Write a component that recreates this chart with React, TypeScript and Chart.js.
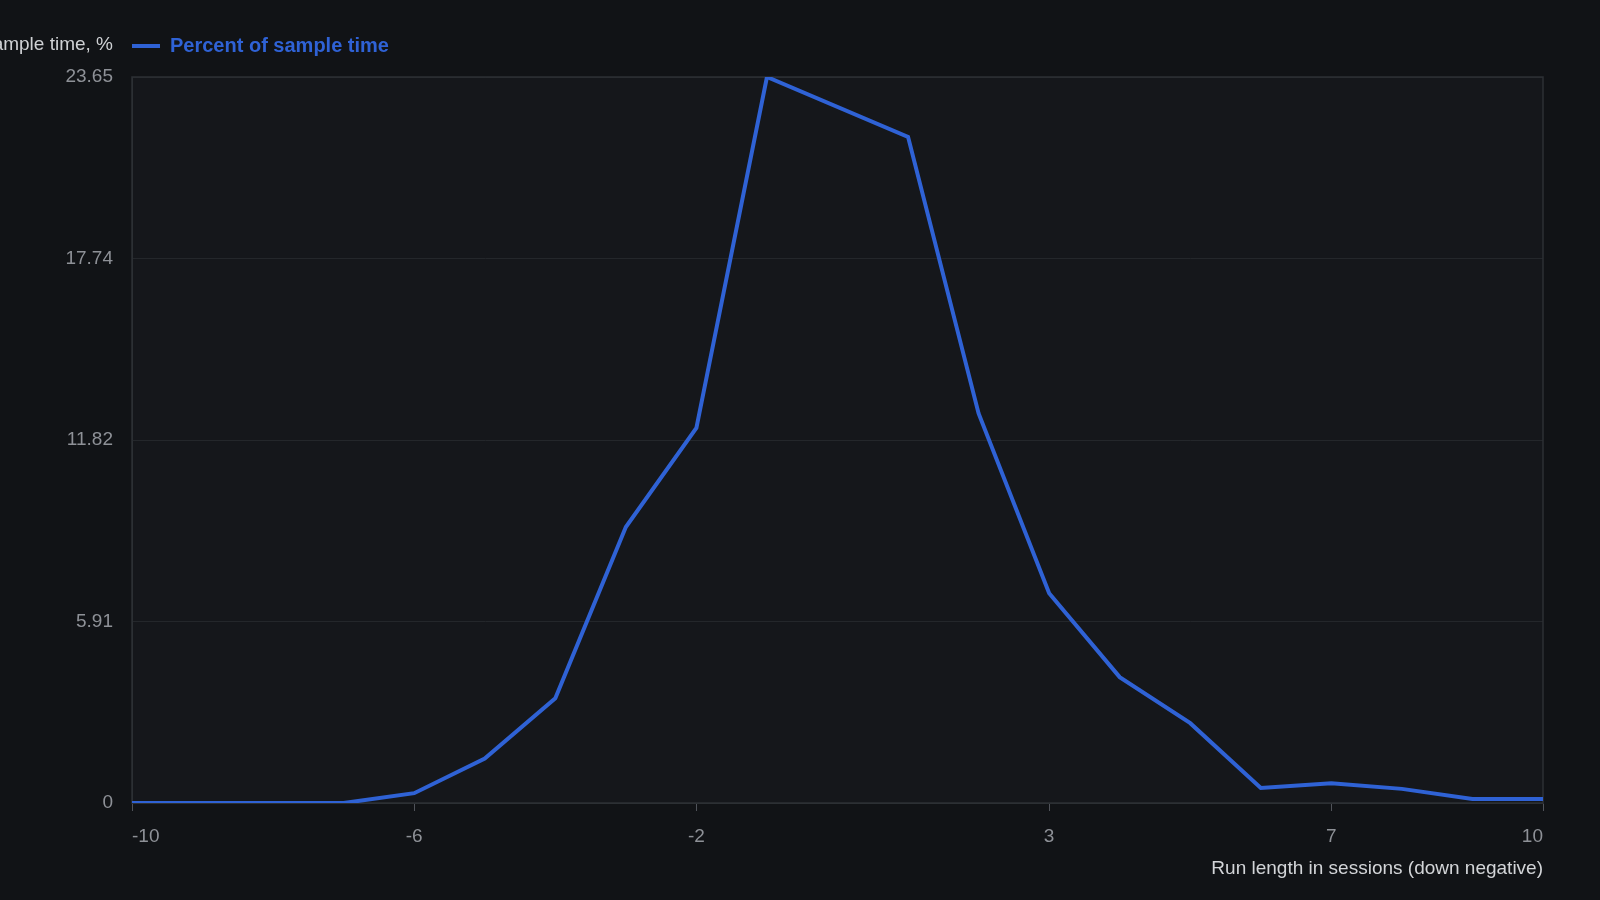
import { useEffect, useRef } from 'react';
import Chart from 'chart.js/auto';

const runLengths = [-10, -9, -8, -7, -6, -5, -4, -3, -2, -1, 1, 2, 3, 4, 5, 6, 7, 8, 9, 10];
const percentTime = [0, 0, 0, 0, 0.32, 1.45, 3.41, 8.99, 12.22, 23.65, 21.7, 12.69, 6.83, 4.1, 2.6, 0.49, 0.64, 0.46, 0.13, 0.13];
const xTicks = [-10, -6, -2, 3, 7, 10];
const yTicks = [0, 5.91, 11.82, 17.74, 23.65];

const seriesLabel = 'Percent of sample time';
const yTitle = 'Percent of sample time, %';
const xTitle = 'Run length in sessions (down negative)';

const FONT = '"Liberation Sans", Arial, sans-serif';
const BLUE = '#2f62d5';

// chart area fill, frame and the horizontal y title next to the legend
const framePlugin = {
  id: 'frame',
  afterLayout(chart: any) {
    // legend sits a bit higher above the plot than chart.js puts it
    const l = chart.legend;
    if (l) {
      l.top -= 11;
      l.bottom -= 11;
    }
  },
  beforeDraw(chart: any) {
    const { ctx, chartArea: a } = chart;
    ctx.save();
    ctx.fillStyle = '#15171b';
    ctx.fillRect(a.left, a.top, a.right - a.left, a.bottom - a.top);
    ctx.restore();
  },
  beforeDatasetsDraw(chart: any) {
    const { ctx, chartArea: a } = chart;
    ctx.save();
    ctx.strokeStyle = '#2d3035';
    ctx.lineWidth = 1.5;
    ctx.strokeRect(a.left, a.top, a.right - a.left, a.bottom - a.top);
    ctx.restore();
  },
  afterDraw(chart: any) {
    const { ctx } = chart;
    ctx.save();
    ctx.font = `19px ${FONT}`;
    ctx.fillStyle = '#cfd1d4';
    ctx.textAlign = 'right';
    ctx.textBaseline = 'middle';
    ctx.fillText(yTitle, 113, 45);
    ctx.restore();
  },
};

const App = () => {
  const ref = useRef<HTMLCanvasElement>(null);
  const chart = useRef<Chart>();

  useEffect(() => {
    if (ref.current) {
      chart.current = new Chart(ref.current, {
        type: 'line',
        data: {
          datasets: [
            {
              label: seriesLabel,
              data: runLengths.map((x, i) => ({ x, y: percentTime[i] })),
              borderColor: BLUE,
              backgroundColor: BLUE,
              borderWidth: 4,
              pointRadius: 0,
              tension: 0,
            },
          ],
        },
        options: {
          animation: false,
          responsive: true,
          maintainAspectRatio: false,
          layout: { padding: { top: 26, right: 57, left: 0, bottom: 0 } },
          plugins: {
            tooltip: { enabled: false },
            legend: {
              position: 'top',
              align: 'start',
              fullSize: false,
              labels: {
                usePointStyle: true,
                pointStyle: 'line',
                pointStyleWidth: 28,
                padding: 0,
                color: BLUE,
                font: { family: FONT, size: 20, weight: 'bold' },
              },
            },
          },
          scales: {
            x: {
              type: 'linear',
              min: -10,
              max: 10,
              afterBuildTicks: (s: any) => {
                s.ticks = xTicks.map((value) => ({ value }));
              },
              afterFit: (s: any) => {
                s.height = 97;
              },
              grid: { drawOnChartArea: false, tickLength: 8, color: '#50535a' },
              border: { color: '#2d3035' },
              ticks: {
                autoSkip: false,
                maxRotation: 0,
                align: 'inner',
                padding: 14,
                color: '#8e9197',
                font: { family: FONT, size: 19 },
                callback: (v: any) => String(v),
              },
              title: {
                display: true,
                text: xTitle,
                align: 'end',
                color: '#d3d5d8',
                font: { family: FONT, size: 19 },
                padding: { top: 4, bottom: 20 },
              },
            },
            y: {
              min: 0,
              max: 23.65,
              afterBuildTicks: (s: any) => {
                s.ticks = yTicks.map((value) => ({ value }));
              },
              afterFit: (s: any) => {
                s.width = 132;
                s.paddingTop = 77;
              },
              grid: { drawTicks: false, color: '#24272b' },
              border: { color: '#2d3035' },
              ticks: {
                padding: 19,
                color: '#8e9197',
                font: { family: FONT, size: 19 },
                callback: (v: any) => String(v),
              },
            },
          },
        },
        plugins: [framePlugin],
      });
    }

    return () => {
      if (chart.current) {
        chart.current.destroy();
      }
    };
  }, []);

  return (
    <div style={{ position: 'fixed', inset: 0, background: '#111316' }}>
      <canvas ref={ref}></canvas>
    </div>
  );
};

export default App;
